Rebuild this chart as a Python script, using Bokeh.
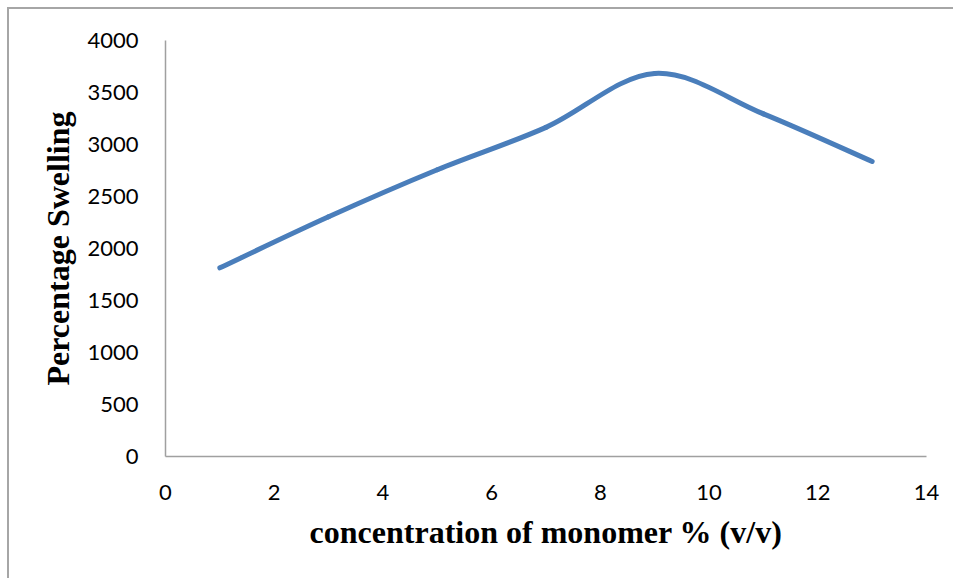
from bokeh.plotting import figure
from bokeh.models import Range1d, FixedTicker
from bokeh.embed import file_html
from bokeh.resources import INLINE

# data
conc = [1, 3, 5, 7, 9, 11, 13]
swelling = [1814, 2305, 2757, 3165, 3683, 3295, 2837]
x_ticks = [0, 2, 4, 6, 8, 10, 12, 14]
y_ticks = [0, 500, 1000, 1500, 2000, 2500, 3000, 3500, 4000]

p = figure(width=946, height=571, output_backend="svg", toolbar_location=None,
           x_range=Range1d(0, 14), y_range=Range1d(0, 4000),
           min_border_left=156, min_border_right=29, min_border_top=31, min_border_bottom=124)
p.styles = {"border-left": "2px solid #a6a6a6", "border-top": "2px solid #a6a6a6",
            "margin-left": "7px", "margin-top": "7px"}
p.outline_line_color = None
p.xgrid.visible = False
p.ygrid.visible = False
p.background_fill_color = "white"
p.border_fill_color = "white"

# smoothed line (Catmull-Rom style cubic Bezier segments, as in the source spreadsheet)
n = len(conc)
x0, y0, x1, y1, cx0, cy0, cx1, cy1 = [], [], [], [], [], [], [], []
for i in range(n - 1):
    im1 = max(i - 1, 0)
    ip2 = min(i + 2, n - 1)
    x0.append(conc[i]); y0.append(swelling[i])
    x1.append(conc[i + 1]); y1.append(swelling[i + 1])
    cx0.append(conc[i] + (conc[i + 1] - conc[im1]) / 6)
    cy0.append(swelling[i] + (swelling[i + 1] - swelling[im1]) / 6)
    cx1.append(conc[i + 1] - (conc[ip2] - conc[i]) / 6)
    cy1.append(swelling[i + 1] - (swelling[ip2] - swelling[i]) / 6)

p.bezier(x0=x0, y0=y0, x1=x1, y1=y1, cx0=cx0, cy0=cy0, cx1=cx1, cy1=cy1,
         line_color="#4a7ebb", line_width=5, line_cap="round")

for ax in (p.xaxis, p.yaxis):
    ax.axis_line_color = "#a0a0a0"
    ax.axis_line_width = 1.5
    ax.major_tick_line_color = None
    ax.minor_tick_line_color = None
    ax.major_label_text_font = "Lato"
    ax.major_label_text_font_size = "22px"
    ax.major_label_text_color = "black"
    ax.axis_label_text_font = "Liberation Serif"
    ax.axis_label_text_font_style = "bold"
    ax.axis_label_text_font_size = "32px"
    ax.axis_label_text_color = "black"

p.xaxis.ticker = FixedTicker(ticks=x_ticks)
p.yaxis.ticker = FixedTicker(ticks=y_ticks)
p.xaxis.major_label_standoff = 22
p.yaxis.major_label_standoff = 21
p.xaxis.axis_label = "concentration of monomer % (v/v)"
p.yaxis.axis_label = "Percentage Swelling"
p.xaxis.axis_label_standoff = 11
p.yaxis.axis_label_standoff = 8

open("out.html", "w").write(file_html(p, INLINE))
